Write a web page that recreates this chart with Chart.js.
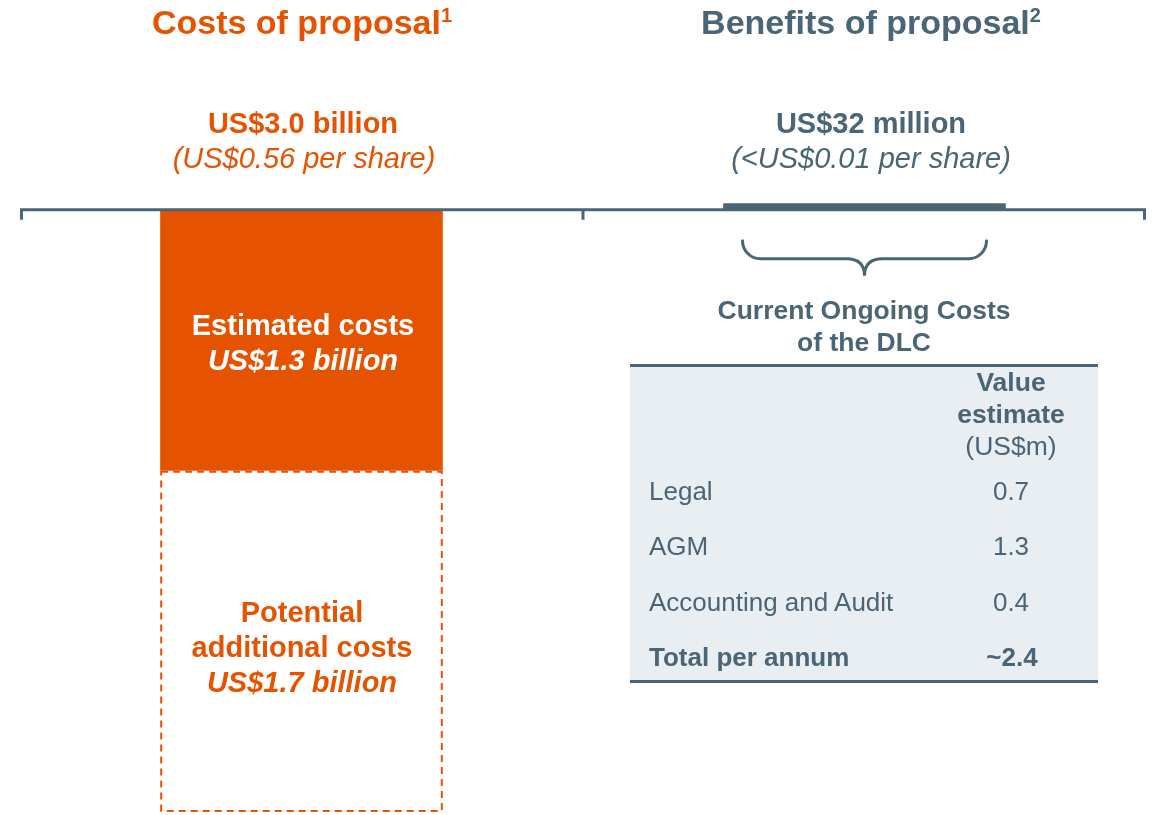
<!DOCTYPE html>
<html>
<head>
<meta charset="utf-8">
<script src="https://cdn.jsdelivr.net/npm/chart.js@4.4.1/dist/chart.umd.min.js"></script>
<style>
  body { margin: 0; background: #fff; overflow: hidden; }
  #wrap { position: relative; width: 1153px; height: 815px; font-family: "Liberation Sans", Arial, sans-serif; }
  #chart { position: absolute; left: 0; top: 0; }
  .t { position: absolute; white-space: nowrap; text-align: center; width: 800px; }
  .sup { position: relative; top: -12px; font-size: 20px; }
  #table { position: absolute; left: 630px; top: 364px; width: 468px; height: 319px; background: #e9eef2;
           border-top: 3px solid #4a6576; border-bottom: 3px solid #4a6576; box-sizing: border-box; }
</style>
</head>
<body>
<div id="wrap">
  <div id="table"></div>
  <canvas id="chart" width="1153" height="815"></canvas>
</div>
<script>
// values in US$ billion
const categories = ["Costs of proposal", "Benefits of proposal"];
const estimatedCosts = [1.3, null];
const additionalCosts = [1.7, null];
const benefits = [null, 0.032];

// table of current ongoing costs (US$m)
const tableItems = ["Legal", "AGM", "Accounting and Audit"];
const tableValues = ["0.7", "1.3", "0.4"];
const tableTotal = ["Total per annum", "~2.4"];

const orange = "#e65300";
const slate = "#4a6576";

// Axis line, ticks, dashed box for the potential costs and the brace
const extras = {
  id: "extras",
  afterDatasetsDraw(chart) {
    const c = chart.ctx;
    const x = chart.scales.x;
    const y = chart.scales.y;
    const y0 = y.getPixelForValue(0);

    // dashed outline of the additional costs bar
    const bar = chart.getDatasetMeta(1).data[0];
    c.save();
    c.strokeStyle = orange;
    c.lineWidth = 2;
    c.setLineDash([7, 5]);
    const top = Math.min(bar.y, bar.base), bot = Math.max(bar.y, bar.base);
    c.strokeRect(bar.x - bar.width / 2 + 1, top + 1, bar.width - 2, bot - top - 2);
    c.restore();

    // zero line with ticks at the category edges
    c.save();
    c.strokeStyle = slate;
    c.lineWidth = 3;
    c.beginPath();
    c.moveTo(x.left, y0);
    c.lineTo(x.right, y0);
    const half = (x.getPixelForValue(1) - x.getPixelForValue(0)) / 2;
    [x.getPixelForValue(0) - half + 1.5, x.getPixelForValue(0) + half, x.getPixelForValue(1) + half - 1.5].forEach(px => {
      c.moveTo(px, y0);
      c.lineTo(px, y0 + 10);
    });
    c.stroke();

    // brace under the benefits bar
    const b = chart.getDatasetMeta(2).data[1];
    const cx = b.x, L = cx - 122, R = cx + 122;
    const t = y0 + 31, m = y0 + 49, tip = y0 + 66, r = 18;
    c.lineCap = "round";
    c.beginPath();
    c.moveTo(L, t);
    c.arcTo(L, m, L + r, m, r);
    c.lineTo(cx - r, m);
    c.quadraticCurveTo(cx, m, cx, tip);
    c.quadraticCurveTo(cx, m, cx + r, m);
    c.lineTo(R - r, m);
    c.arcTo(R, m, R, t, r);
    c.lineTo(R, t);
    c.stroke();
    c.restore();
  }
};

new Chart(document.getElementById("chart"), {
  type: "bar",
  data: {
    labels: categories,
    datasets: [
      { label: "Estimated costs", data: estimatedCosts.map(v => v == null ? null : -v), backgroundColor: orange },
      { label: "Potential additional costs", data: additionalCosts.map(v => v == null ? null : -v), backgroundColor: "rgba(0,0,0,0)" },
      { label: "Benefits", data: benefits, backgroundColor: slate }
    ]
  },
  options: {
    responsive: false,
    animation: false,
    layout: { padding: { left: 20, right: 7, top: 9, bottom: 3 } },
    datasets: { bar: { barPercentage: 0.502, categoryPercentage: 1, borderWidth: 0 } },
    plugins: { legend: { display: false }, tooltip: { enabled: false } },
    scales: {
      x: { display: false, stacked: true },
      y: { display: false, stacked: true, min: -3, max: 1 }
    }
  },
  plugins: [extras]
});

// text
const wrap = document.getElementById("wrap");
function addText(html, cx, baseline, size, color, weight, style, align) {
  const d = document.createElement("div");
  d.className = "t";
  d.innerHTML = html;
  d.style.fontSize = size + "px";
  d.style.lineHeight = size + "px";
  d.style.top = (baseline - 0.8465 * size) + "px";
  d.style.color = color;
  d.style.fontWeight = weight || "normal";
  d.style.fontStyle = style || "normal";
  if (align === "left") {
    d.style.textAlign = "left";
    d.style.left = cx + "px";
  } else {
    d.style.left = (cx - 400) + "px";
  }
  wrap.appendChild(d);
}

addText('Costs of proposal<span class="sup">1</span>', 302, 34, 34, orange, "bold");
addText('Benefits of proposal<span class="sup">2</span>', 871, 34, 34, slate, "bold");

addText("US$3.0 billion", 303, 134, 29, orange, "bold");
addText("(US$0.56 per share)", 304, 169, 29, orange, "normal", "italic");
addText("US$32 million", 871, 134, 29, slate, "bold");
addText("(&lt;US$0.01 per share)", 871, 169, 29, slate, "normal", "italic");

addText("Estimated costs", 303, 336, 29, "#fff", "bold");
addText("US$1.3 billion", 303, 371, 29, "#fff", "bold", "italic");
addText("Potential", 302, 623, 29, orange, "bold");
addText("additional costs", 302, 658, 29, orange, "bold");
addText("US$1.7 billion", 302, 693, 29, orange, "bold", "italic");

addText("Current Ongoing Costs", 864, 319, 26.5, slate, "bold");
addText("of the DLC", 864, 351, 26.5, slate, "bold");

addText("Value", 1011, 391, 26.5, slate, "bold");
addText("estimate", 1011, 423, 26.5, slate, "bold");
addText("(US$m)", 1011, 455, 26.5, slate);

tableItems.forEach((item, i) => {
  addText(item, 649, 500 + i * 55.3, 26, slate, "normal", "normal", "left");
  addText(tableValues[i], 1011, 500 + i * 55.3, 26, slate);
});
addText(tableTotal[0], 649, 500 + 3 * 55.3, 26, slate, "bold", "normal", "left");
addText(tableTotal[1], 1012, 500 + 3 * 55.3, 26, slate, "bold");
</script>
</body>
</html>
